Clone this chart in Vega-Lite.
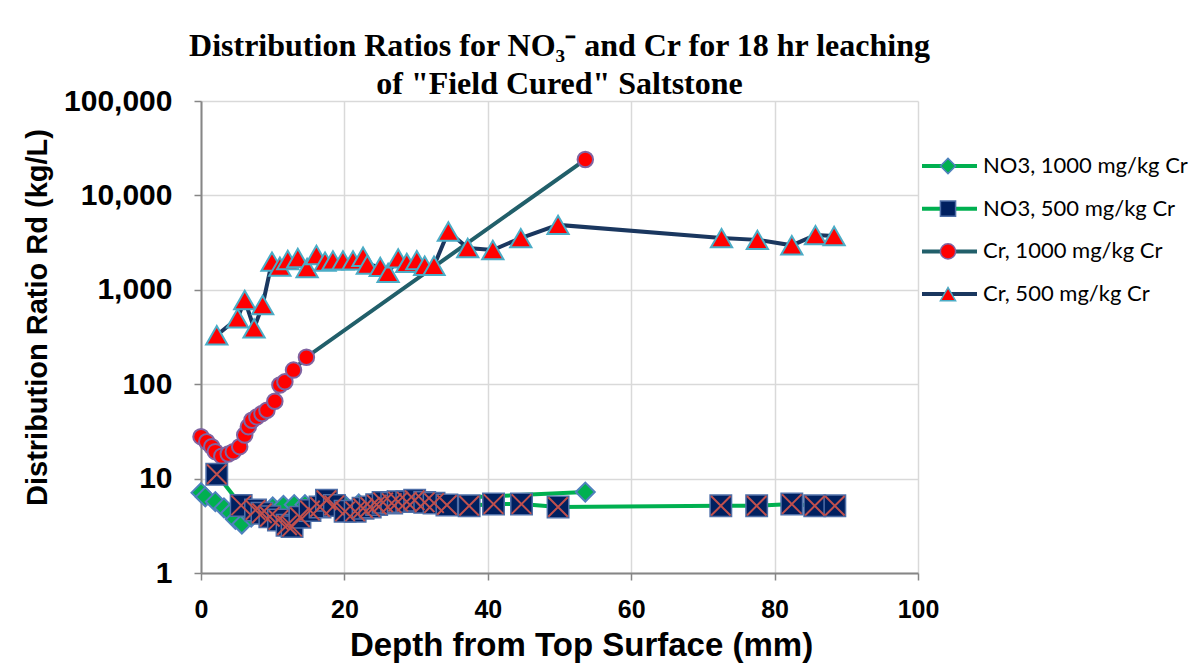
{
  "$schema": "https://vega.github.io/schema/vega-lite/v6.json",
  "width": 717,
  "height": 472,
  "autosize": {"type": "none"},
  "padding": {"left": 201, "top": 101, "right": 282, "bottom": 92},
  "background": "white",
  "title": {
    "text": ["Distribution Ratios for NO₃⁻ and Cr for 18 hr leaching", "of \"Field Cured\" Saltstone"],
    "font": "Liberation Serif",
    "fontSize": 32,
    "fontWeight": "bold",
    "lineHeight": 38,
    "anchor": "middle",
    "offset": -15,
    "color": "black"
  },
  "config": {
    "view": {"stroke": null},
    "axis": {
      "gridColor": "#D9D9D9",
      "gridWidth": 1.5,
      "domainColor": "#868686",
      "domainWidth": 2,
      "tickColor": "#868686",
      "tickWidth": 1.5,
      "tickSize": 7,
      "labelFont": "Liberation Sans",
      "labelFontWeight": "bold",
      "labelColor": "black",
      "titleFont": "Liberation Sans",
      "titleFontWeight": "bold",
      "titleColor": "black"
    }
  },
  "datasets": {
    "pts": [
      {"series": "Cr, 500 mg/kg Cr", "depth": 2.2, "rd": 330},
      {"series": "Cr, 500 mg/kg Cr", "depth": 5.1, "rd": 500},
      {"series": "Cr, 500 mg/kg Cr", "depth": 6.1, "rd": 780},
      {"series": "Cr, 500 mg/kg Cr", "depth": 7.4, "rd": 390},
      {"series": "Cr, 500 mg/kg Cr", "depth": 8.6, "rd": 690},
      {"series": "Cr, 500 mg/kg Cr", "depth": 9.9, "rd": 1990},
      {"series": "Cr, 500 mg/kg Cr", "depth": 11.0, "rd": 1760},
      {"series": "Cr, 500 mg/kg Cr", "depth": 12.1, "rd": 2070},
      {"series": "Cr, 500 mg/kg Cr", "depth": 13.5, "rd": 2170},
      {"series": "Cr, 500 mg/kg Cr", "depth": 14.8, "rd": 1700},
      {"series": "Cr, 500 mg/kg Cr", "depth": 16.1, "rd": 2340},
      {"series": "Cr, 500 mg/kg Cr", "depth": 17.3, "rd": 1990},
      {"series": "Cr, 500 mg/kg Cr", "depth": 18.4, "rd": 2050},
      {"series": "Cr, 500 mg/kg Cr", "depth": 19.8, "rd": 2050},
      {"series": "Cr, 500 mg/kg Cr", "depth": 21.2, "rd": 2050},
      {"series": "Cr, 500 mg/kg Cr", "depth": 22.6, "rd": 2240},
      {"series": "Cr, 500 mg/kg Cr", "depth": 23.2, "rd": 1850},
      {"series": "Cr, 500 mg/kg Cr", "depth": 25.0, "rd": 1750},
      {"series": "Cr, 500 mg/kg Cr", "depth": 26.1, "rd": 1510},
      {"series": "Cr, 500 mg/kg Cr", "depth": 27.5, "rd": 2150},
      {"series": "Cr, 500 mg/kg Cr", "depth": 28.7, "rd": 1930},
      {"series": "Cr, 500 mg/kg Cr", "depth": 30.1, "rd": 2060},
      {"series": "Cr, 500 mg/kg Cr", "depth": 31.2, "rd": 1800},
      {"series": "Cr, 500 mg/kg Cr", "depth": 32.5, "rd": 1800},
      {"series": "Cr, 500 mg/kg Cr", "depth": 34.5, "rd": 4150},
      {"series": "Cr, 500 mg/kg Cr", "depth": 37.2, "rd": 2770},
      {"series": "Cr, 500 mg/kg Cr", "depth": 40.7, "rd": 2640},
      {"series": "Cr, 500 mg/kg Cr", "depth": 44.6, "rd": 3530},
      {"series": "Cr, 500 mg/kg Cr", "depth": 49.8, "rd": 4870},
      {"series": "Cr, 500 mg/kg Cr", "depth": 72.6, "rd": 3530},
      {"series": "Cr, 500 mg/kg Cr", "depth": 77.6, "rd": 3380},
      {"series": "Cr, 500 mg/kg Cr", "depth": 82.4, "rd": 2960},
      {"series": "Cr, 500 mg/kg Cr", "depth": 85.7, "rd": 3800},
      {"series": "Cr, 500 mg/kg Cr", "depth": 88.3, "rd": 3720},
      {"series": "Cr, 1000 mg/kg Cr", "depth": 0.0, "rd": 27.8},
      {"series": "Cr, 1000 mg/kg Cr", "depth": 0.8, "rd": 24.6},
      {"series": "Cr, 1000 mg/kg Cr", "depth": 1.5, "rd": 21.8},
      {"series": "Cr, 1000 mg/kg Cr", "depth": 2.0, "rd": 19.3},
      {"series": "Cr, 1000 mg/kg Cr", "depth": 2.9, "rd": 17.3},
      {"series": "Cr, 1000 mg/kg Cr", "depth": 3.8, "rd": 18.2},
      {"series": "Cr, 1000 mg/kg Cr", "depth": 4.5, "rd": 19.3},
      {"series": "Cr, 1000 mg/kg Cr", "depth": 5.4, "rd": 21.8},
      {"series": "Cr, 1000 mg/kg Cr", "depth": 6.1, "rd": 29},
      {"series": "Cr, 1000 mg/kg Cr", "depth": 6.6, "rd": 35.5},
      {"series": "Cr, 1000 mg/kg Cr", "depth": 7.1, "rd": 41.5},
      {"series": "Cr, 1000 mg/kg Cr", "depth": 7.8, "rd": 45},
      {"series": "Cr, 1000 mg/kg Cr", "depth": 8.5, "rd": 49},
      {"series": "Cr, 1000 mg/kg Cr", "depth": 9.2, "rd": 53},
      {"series": "Cr, 1000 mg/kg Cr", "depth": 10.3, "rd": 66},
      {"series": "Cr, 1000 mg/kg Cr", "depth": 11.0, "rd": 98},
      {"series": "Cr, 1000 mg/kg Cr", "depth": 11.7, "rd": 106},
      {"series": "Cr, 1000 mg/kg Cr", "depth": 12.9, "rd": 141},
      {"series": "Cr, 1000 mg/kg Cr", "depth": 14.7, "rd": 193},
      {"series": "Cr, 1000 mg/kg Cr", "depth": 53.6, "rd": 24000},
      {"series": "NO3, 1000 mg/kg Cr", "depth": 0.0, "rd": 7.1},
      {"series": "NO3, 1000 mg/kg Cr", "depth": 0.6, "rd": 6.4},
      {"series": "NO3, 1000 mg/kg Cr", "depth": 2.0, "rd": 5.7},
      {"series": "NO3, 1000 mg/kg Cr", "depth": 3.2, "rd": 4.9},
      {"series": "NO3, 1000 mg/kg Cr", "depth": 4.1, "rd": 4.3},
      {"series": "NO3, 1000 mg/kg Cr", "depth": 4.8, "rd": 3.7},
      {"series": "NO3, 1000 mg/kg Cr", "depth": 5.7, "rd": 3.3},
      {"series": "NO3, 1000 mg/kg Cr", "depth": 7.0, "rd": 3.9},
      {"series": "NO3, 1000 mg/kg Cr", "depth": 8.5, "rd": 4.5},
      {"series": "NO3, 1000 mg/kg Cr", "depth": 10.0, "rd": 5.0},
      {"series": "NO3, 1000 mg/kg Cr", "depth": 11.5, "rd": 5.2},
      {"series": "NO3, 1000 mg/kg Cr", "depth": 13.0, "rd": 5.3},
      {"series": "NO3, 1000 mg/kg Cr", "depth": 14.5, "rd": 5.3},
      {"series": "NO3, 1000 mg/kg Cr", "depth": 16.0, "rd": 5.2},
      {"series": "NO3, 1000 mg/kg Cr", "depth": 18.0, "rd": 5.4},
      {"series": "NO3, 1000 mg/kg Cr", "depth": 20.0, "rd": 5.3},
      {"series": "NO3, 1000 mg/kg Cr", "depth": 22.0, "rd": 5.4},
      {"series": "NO3, 1000 mg/kg Cr", "depth": 24.0, "rd": 5.6},
      {"series": "NO3, 1000 mg/kg Cr", "depth": 26.0, "rd": 5.8},
      {"series": "NO3, 1000 mg/kg Cr", "depth": 53.6, "rd": 7.2},
      {"series": "NO3, 500 mg/kg Cr", "depth": 2.2, "rd": 11.1},
      {"series": "NO3, 500 mg/kg Cr", "depth": 5.6, "rd": 5.2},
      {"series": "NO3, 500 mg/kg Cr", "depth": 7.6, "rd": 4.65},
      {"series": "NO3, 500 mg/kg Cr", "depth": 8.5, "rd": 4.3},
      {"series": "NO3, 500 mg/kg Cr", "depth": 9.6, "rd": 3.95},
      {"series": "NO3, 500 mg/kg Cr", "depth": 10.8, "rd": 3.65},
      {"series": "NO3, 500 mg/kg Cr", "depth": 12.0, "rd": 3.2},
      {"series": "NO3, 500 mg/kg Cr", "depth": 12.7, "rd": 3.1},
      {"series": "NO3, 500 mg/kg Cr", "depth": 13.8, "rd": 3.9},
      {"series": "NO3, 500 mg/kg Cr", "depth": 15.2, "rd": 4.6},
      {"series": "NO3, 500 mg/kg Cr", "depth": 16.6, "rd": 5.0},
      {"series": "NO3, 500 mg/kg Cr", "depth": 17.5, "rd": 5.9},
      {"series": "NO3, 500 mg/kg Cr", "depth": 18.6, "rd": 5.2},
      {"series": "NO3, 500 mg/kg Cr", "depth": 20.1, "rd": 4.5},
      {"series": "NO3, 500 mg/kg Cr", "depth": 21.5, "rd": 4.5},
      {"series": "NO3, 500 mg/kg Cr", "depth": 22.6, "rd": 4.85},
      {"series": "NO3, 500 mg/kg Cr", "depth": 23.6, "rd": 5.0},
      {"series": "NO3, 500 mg/kg Cr", "depth": 24.5, "rd": 5.3},
      {"series": "NO3, 500 mg/kg Cr", "depth": 25.4, "rd": 5.6},
      {"series": "NO3, 500 mg/kg Cr", "depth": 26.6, "rd": 5.5},
      {"series": "NO3, 500 mg/kg Cr", "depth": 27.5, "rd": 5.7},
      {"series": "NO3, 500 mg/kg Cr", "depth": 28.7, "rd": 5.7},
      {"series": "NO3, 500 mg/kg Cr", "depth": 29.8, "rd": 5.9},
      {"series": "NO3, 500 mg/kg Cr", "depth": 31.2, "rd": 5.6},
      {"series": "NO3, 500 mg/kg Cr", "depth": 32.5, "rd": 5.5},
      {"series": "NO3, 500 mg/kg Cr", "depth": 34.3, "rd": 5.25},
      {"series": "NO3, 500 mg/kg Cr", "depth": 37.4, "rd": 5.15},
      {"series": "NO3, 500 mg/kg Cr", "depth": 40.8, "rd": 5.37},
      {"series": "NO3, 500 mg/kg Cr", "depth": 44.7, "rd": 5.37},
      {"series": "NO3, 500 mg/kg Cr", "depth": 49.8, "rd": 5.0},
      {"series": "NO3, 500 mg/kg Cr", "depth": 72.5, "rd": 5.15},
      {"series": "NO3, 500 mg/kg Cr", "depth": 77.5, "rd": 5.15},
      {"series": "NO3, 500 mg/kg Cr", "depth": 82.4, "rd": 5.37},
      {"series": "NO3, 500 mg/kg Cr", "depth": 85.6, "rd": 5.15},
      {"series": "NO3, 500 mg/kg Cr", "depth": 88.4, "rd": 5.15}
    ]
  },
  "data": {"name": "pts"},
  "encoding": {
    "x": {
      "field": "depth", "type": "quantitative",
      "scale": {"domain": [0, 100], "nice": false},
      "axis": {"values": [0, 20, 40, 60, 80, 100], "title": "Depth from  Top Surface (mm)", "labelFontSize": 25, "labelPadding": 17, "titleFontSize": 33, "titlePadding": 7, "titleX": 380, "labelFlush": false}
    },
    "y": {
      "field": "rd", "type": "quantitative",
      "scale": {"type": "log", "domain": [1, 100000], "nice": false},
      "axis": {"values": [1, 10, 100, 1000, 10000, 100000], "format": ",", "title": "Distribution Ratio Rd (kg/L)", "labelFontSize": 30, "labelPadding": 22, "titleFontSize": 29, "titlePadding": 11, "titleY": 216}
    }
  },
  "layer": [
    {
      "mark": {"type": "line", "strokeWidth": 4},
      "encoding": {
        "color": {
          "field": "series", "type": "nominal",
          "sort": ["NO3, 1000 mg/kg Cr", "NO3, 500 mg/kg Cr", "Cr, 1000 mg/kg Cr", "Cr, 500 mg/kg Cr"],
          "scale": {"range": ["#00B050", "#00B050", "#215F6A", "#1A375F"]},
          "legend": {
            "title": null, "orient": "none", "legendX": 719, "legendY": 50,
            "symbolType": "stroke", "symbolSize": 3025, "symbolStrokeWidth": 4,
            "clipHeight": 30, "rowPadding": 12.7, "padding": 0,
            "labelFont": "Lato", "labelFontSize": 22, "labelColor": "black", "labelOffset": 4, "labelLimit": 400
          }
        }
      }
    },
    {
      "transform": [{"filter": "datum.series === 'Cr, 500 mg/kg Cr'"}],
      "mark": {"type": "point", "filled": true, "opacity": 1, "size": 450, "strokeWidth": 2},
      "encoding": {
        "fill": {"field": "series", "type": "nominal", "scale": {"domain": ["NO3, 1000 mg/kg Cr", "NO3, 500 mg/kg Cr", "Cr, 1000 mg/kg Cr", "Cr, 500 mg/kg Cr"], "range": ["#00B050", "#002060", "#FF0000", "#FF0000"]},
          "legend": {"title": null, "orient": "none", "legendX": 736, "legendY": 50, "symbolSize": 230, "symbolStrokeWidth": 1.5, "symbolOpacity": 1, "clipHeight": 30, "rowPadding": 12.7, "padding": 0, "labelFont": "Lato", "labelFontSize": 22, "labelExpr": "''"}},
        "stroke": {"field": "series", "type": "nominal", "scale": {"domain": ["NO3, 1000 mg/kg Cr", "NO3, 500 mg/kg Cr", "Cr, 1000 mg/kg Cr", "Cr, 500 mg/kg Cr"], "range": ["#4F81BD", "#4F6FA8", "#8064A2", "#4BACC6"]},
          "legend": {"title": null, "orient": "none", "legendX": 736, "legendY": 50, "symbolSize": 230, "symbolStrokeWidth": 1.5, "symbolOpacity": 1, "clipHeight": 30, "rowPadding": 12.7, "padding": 0, "labelFont": "Lato", "labelFontSize": 22, "labelExpr": "''"}},
        "shape": {"field": "series", "type": "nominal", "scale": {"domain": ["NO3, 1000 mg/kg Cr", "NO3, 500 mg/kg Cr", "Cr, 1000 mg/kg Cr", "Cr, 500 mg/kg Cr"], "range": ["diamond", "square", "circle", "triangle-up"]},
          "legend": {"title": null, "orient": "none", "legendX": 736, "legendY": 50, "symbolSize": 230, "symbolStrokeWidth": 1.5, "symbolOpacity": 1, "clipHeight": 30, "rowPadding": 12.7, "padding": 0, "labelFont": "Lato", "labelFontSize": 22, "labelExpr": "''"}}
      }
    },
    {
      "transform": [{"filter": "datum.series === 'Cr, 1000 mg/kg Cr'"}],
      "mark": {"type": "point", "filled": true, "opacity": 1, "size": 240, "strokeWidth": 2},
      "encoding": {
        "fill": {"field": "series", "type": "nominal"},
        "stroke": {"field": "series", "type": "nominal"},
        "shape": {"field": "series", "type": "nominal"}
      }
    },
    {
      "transform": [{"filter": "datum.series === 'NO3, 1000 mg/kg Cr'"}],
      "mark": {"type": "point", "filled": true, "opacity": 1, "size": 360, "strokeWidth": 2},
      "encoding": {
        "fill": {"field": "series", "type": "nominal"},
        "stroke": {"field": "series", "type": "nominal"},
        "shape": {"field": "series", "type": "nominal"}
      }
    },
    {
      "transform": [{"filter": "datum.series === 'NO3, 500 mg/kg Cr'"}],
      "mark": {"type": "point", "filled": true, "opacity": 1, "size": 460, "strokeWidth": 1.5},
      "encoding": {
        "fill": {"field": "series", "type": "nominal"},
        "stroke": {"field": "series", "type": "nominal"},
        "shape": {"field": "series", "type": "nominal"}
      }
    },
    {
      "transform": [{"filter": "datum.series === 'NO3, 500 mg/kg Cr'"}],
      "mark": {"type": "point", "filled": false, "opacity": 1, "size": 380, "strokeWidth": 2, "stroke": "#C0504D", "shape": "M-1,-1L1,1M1,-1L-1,1"}
    }
  ]
}
